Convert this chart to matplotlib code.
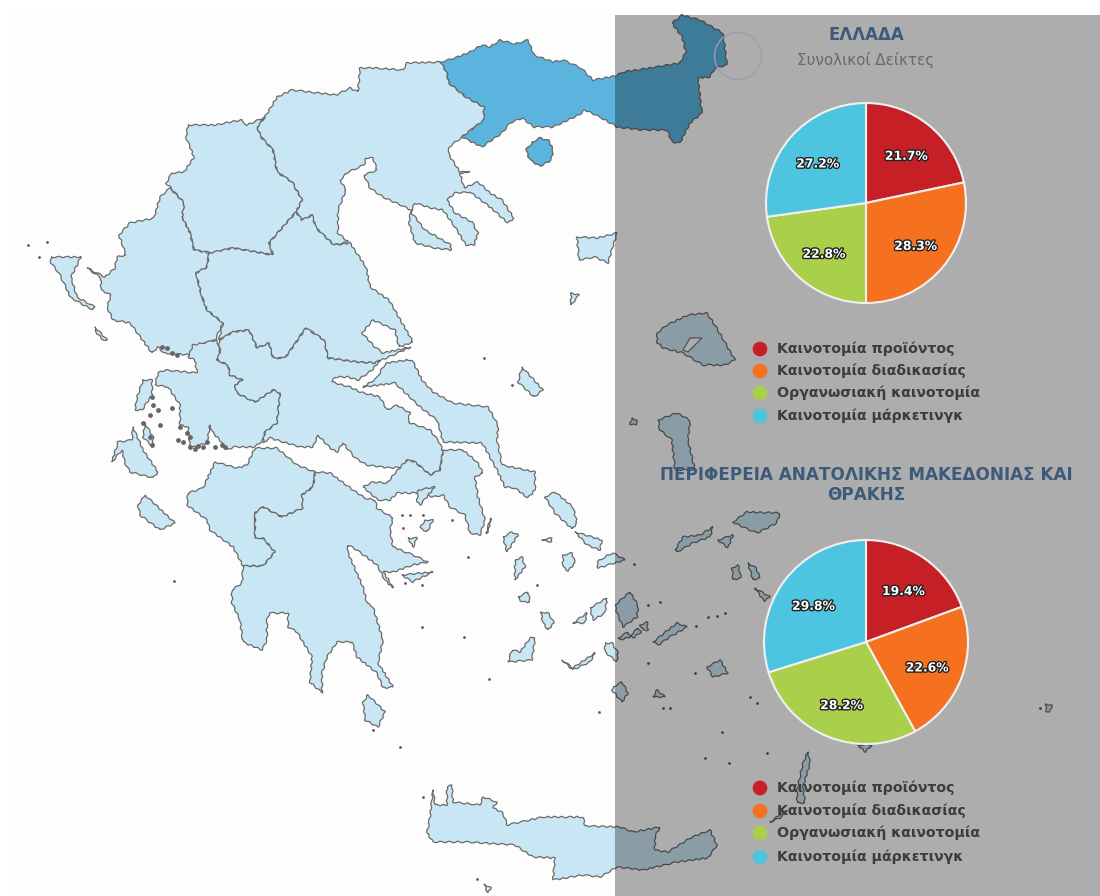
import matplotlib
matplotlib.use("Agg")
import matplotlib.pyplot as plt
import matplotlib.patheffects as pe
from matplotlib.patches import Polygon, Rectangle, Circle

# pie values
categories = ["Καινοτομία προϊόντος", "Καινοτομία διαδικασίας", "Οργανωσιακή καινοτομία", "Καινοτομία μάρκετινγκ"]
values_greece = [21.7, 28.3, 22.8, 27.2]
values_region = [19.4, 22.6, 28.2, 29.8]
colors = ["#c62026", "#f57120", "#a9cf4b", "#4dc4e0"]

title_greece = "ΕΛΛΑΔΑ"
subtitle_greece = "Συνολικοί Δείκτες"
title_region = "ΠΕΡΙΦΕΡΕΙΑ ΑΝΑΤΟΛΙΚΗΣ ΜΑΚΕΔΟΝΙΑΣ ΚΑΙ\nΘΡΑΚΗΣ"

# map outlines, in image pixels
thrace = [(441,62),(455,58),(470,52),(482,45),(490,47),(500,40),(515,44),(528,40),(534,55),(553,62),(563,60),(581,68),(593,80),(615,76),
          (623,72),(650,68),(680,63),(686,52),(682,37),(672,23),(682,15),(700,20),(723,33),(727,65),(715,68),(710,77),(698,78),(702,113),
          (690,123),(680,143),(672,142),(667,130),(643,130),(617,127),(600,117),(585,110),(579,115),(553,127),(534,127),(522,118),(510,123),
          (502,133),(482,147),(462,137),(484,120),(484,107),(466,97),(449,83),(447,73)]
thasos = [(533,142),(540,138),(549,141),(553,150),(551,160),(540,166),(530,160),(526,150)]
central_macedonia = [(403,70),(407,63),(441,62),(447,73),(449,83),(466,97),(484,107),(484,120),(462,137),(449,147),(449,155),(460,172),(470,172),
                     (460,173),(464,188),(478,182),(490,193),(502,200),(514,218),(508,223),(490,207),(470,192),(455,193),(447,200),(455,213),(472,222),
                     (478,233),(474,245),(466,245),(455,227),(443,210),(431,208),(415,203),(411,212),(425,230),(451,245),(451,250),(435,248),(415,243),
                     (409,223),(411,210),(383,197),(370,188),(364,175),(377,170),(373,158),(366,158),(364,165),(348,172),(340,180),(346,190),(338,210),
                     (338,233),(348,242),(334,245),(316,228),(312,215),(302,220),(296,212),(302,200),(292,182),(277,172),(273,150),(261,137),(257,127),
                     (265,117),(277,97),(292,90),(336,95),(350,88),(358,92),(360,68),(375,68)]
west_macedonia = [(188,125),(215,125),(241,120),(247,125),(265,117),(257,127),(261,137),(273,150),(277,172),(292,182),(302,200),(296,212),(269,243),
                  (273,255),(233,248),(213,253),(194,250),(190,233),(182,217),(184,203),(170,187),(166,183),(172,173),(184,172),(194,157),(186,137)]
epirus = [(170,188),(160,197),(154,218),(130,223),(119,235),(126,255),(117,257),(115,268),(105,277),(87,268),(101,278),(101,290),(111,295),(107,307),
          (113,320),(130,323),(152,353),(158,347),(164,353),(190,355),(194,347),(215,340),(223,323),(207,310),(202,297),(196,273),(207,267),(209,253),
          (194,250),(190,233),(182,217),(184,203)]
thessaly = [(209,253),(233,248),(273,255),(269,243),(296,212),(302,220),(312,215),(316,228),(334,245),(350,243),(366,267),(370,287),(389,300),(413,342),
            (399,347),(395,330),(373,320),(362,333),(375,347),(383,353),(411,347),(375,363),(356,362),(328,358),(324,340),(306,328),(285,358),(273,358),
            (269,343),(257,348),(249,330),(233,332),(219,340),(223,323),(207,310),(202,297),(196,273),(207,267)]
aetolia = [(217,340),(220,353),(217,360),(228,365),(230,375),(243,380),(235,385),(237,393),(255,402),(273,390),(280,393),(277,423),(265,432),(263,440),
           (255,447),(233,447),(227,450),(220,440),(213,433),(210,425),(207,443),(190,448),(188,427),(180,425),(180,405),(168,387),(155,385),(158,373),
           (165,370),(197,373),(195,360),(188,357),(193,345)]
sterea = [(219,340),(233,332),(249,330),(257,348),(269,343),(273,358),(285,358),(306,328),(324,340),(328,358),(356,362),(375,363),(380,360),(372,370),
          (358,380),(348,377),(335,377),(332,382),(350,387),(360,392),(380,397),(387,410),(397,405),(410,413),(408,422),(430,430),(440,443),(443,452),
          (440,470),(430,475),(415,462),(407,460),(403,467),(390,468),(367,465),(355,458),(343,443),(337,452),(330,448),(318,435),(313,447),(300,447),
          (270,438),(263,443),(265,432),(277,423),(280,393),(273,390),(255,402),(237,393),(235,385),(243,380),(230,375),(228,365),(217,360),(220,353)]
evia = [(407,360),(412,360),(422,380),(433,392),(453,403),(488,407),(498,425),(497,440),(502,465),(535,472),(535,490),(528,498),(515,488),(505,487),
        (497,470),(490,457),(482,443),(443,442),(440,430),(437,420),(420,407),(395,383),(363,387),(377,378),(383,367),(387,363)]
attica = [(443,450),(463,450),(477,462),(483,473),(475,477),(478,497),(485,520),(480,535),(470,533),(465,515),(450,507),(443,495),(433,497),(420,493),
          (397,493),(390,500),(378,500),(363,487),(373,482),(387,483),(395,473),(407,460),(415,462),(430,475),(440,470)]
achaia = [(215,462),(237,468),(247,465),(255,448),(277,448),(297,465),(315,472),(313,487),(302,495),(303,508),(282,517),(263,507),(255,513),(255,538),
          (263,538),(275,552),(263,566),(243,566),(233,547),(210,530),(207,520),(187,505),(188,493),(203,488)]
peloponnese = [(315,472),(330,473),(353,490),(365,498),(375,500),(377,508),(393,518),(390,530),(393,547),(413,555),(428,562),(413,565),(393,572),(383,572),
               (390,582),(393,588),(385,580),(377,565),(357,550),(348,545),(348,553),(363,587),(367,603),(373,607),(383,640),(378,663),(387,677),(393,687),
               (383,688),(377,673),(357,657),(352,642),(337,642),(327,657),(322,673),(322,693),(310,682),(312,657),(297,632),(288,627),(288,613),(270,613),
               (267,618),(267,640),(262,650),(243,642),(240,620),(232,603),(232,590),(242,583),(243,566),(263,566),(275,552),(263,538),(255,538),(255,513),
               (263,507),(282,517),(303,508),(302,495),(313,487)]
crete = [(433,790),(435,805),(447,805),(447,787),(452,785),(453,802),(480,805),(483,797),(497,802),(493,808),(503,813),(507,825),(543,817),(583,817),
         (585,826),(620,827),(633,832),(660,827),(655,837),(655,850),(668,852),(690,838),(710,830),(717,845),(708,858),(677,862),(643,870),(617,867),
         (600,877),(583,875),(553,880),(555,858),(533,857),(515,845),(467,842),(433,842),(427,833),(430,817)]
mainland = [thasos, central_macedonia, west_macedonia, epirus, thessaly, aetolia, sterea, evia, attica, achaia, peloponnese, crete]

islands = [
    [(51,257),(81,257),(71,277),(77,297),(95,307),(93,310),(71,298),(59,273),(51,263)],        # corfu
    [(95,327),(107,340),(104,341),(95,331)],
    [(143,380),(152,380),(152,395),(142,410),(135,410),(137,397)],                             # lefkada
    [(133,427),(143,450),(158,472),(153,478),(130,472),(125,463),(122,450),(112,462),(118,442),(132,440)],
    [(145,423),(153,437),(153,447),(143,437)],
    [(145,495),(175,523),(160,530),(140,515),(138,505)],                                       # zakynthos
    [(368,695),(385,712),(378,727),(365,720),(363,702)],                                       # kythera
    [(522,367),(543,390),(534,397),(518,382)],                                                 # skyros
    [(579,295),(571,305),(571,293)],
    [(577,237),(597,238),(617,233),(608,263),(595,257),(579,260)],                             # limnos
    [(657,333),(667,325),(688,315),(707,313),(715,325),(735,360),(725,365),(703,365),(683,353),(663,348),(657,342)],  # lesvos
    [(658,420),(677,413),(690,420),(688,440),(695,470),(675,470),(672,440),(660,430)],         # chios
    [(632,418),(637,420),(636,425),(630,424)],
    [(733,522),(747,512),(780,513),(777,523),(757,533),(743,527)],                             # samos
    [(675,550),(683,537),(700,535),(713,527),(710,537),(693,543),(677,552)],                   # ikaria
    [(718,540),(733,535),(728,548)],
    [(615,605),(630,592),(638,605),(637,617),(623,627),(617,613)],                             # naxos
    [(590,608),(607,598),(605,613),(593,620)],
    [(573,623),(587,613),(585,623)],
    [(545,497),(555,492),(573,507),(577,523),(572,529),(555,513)],                             # andros
    [(575,532),(602,540),(600,550),(587,545)],
    [(608,555),(613,553),(625,560),(608,565),(598,568),(597,562)],
    [(503,537),(512,532),(518,535),(507,552)],
    [(542,540),(552,538),(552,542)],
    [(515,560),(522,557),(525,567),(515,580)],
    [(563,555),(572,553),(575,563),(568,571),(563,567)],
    [(518,597),(528,592),(530,602),(522,602)],
    [(541,612),(548,613),(554,623),(548,630),(543,623)],
    [(508,662),(512,650),(520,652),(530,638),(535,638),(532,660)],                             # milos
    [(562,660),(573,668),(580,663),(595,653),(590,662),(573,670)],
    [(605,643),(612,643),(618,653),(617,662),(605,652)],
    [(613,687),(622,682),(628,693),(622,702),(612,690)],                                       # santorini
    [(653,642),(677,623),(687,627),(670,637),(658,645)],                                       # amorgos
    [(618,638),(628,632),(630,637),(620,640)],
    [(630,636),(638,628),(641,632),(633,638)],
    [(640,625),(647,622),(648,630),(643,630)],
    [(707,667),(720,660),(728,673),(713,677)],                                                 # astypalaia
    [(653,697),(657,690),(665,697)],
    [(732,568),(738,565),(741,578),(733,580)],
    [(748,563),(756,568),(760,578),(753,580)],
    [(755,588),(770,597),(764,601)],
    [(808,752),(810,763),(803,787),(805,803),(797,803),(797,790),(803,763)],                   # karpathos
    [(770,822),(787,810),(782,817)],
    [(858,745),(872,745),(865,752)],
    [(425,520),(433,520),(427,532),(420,528)],
    [(408,538),(417,538),(413,547)],
    [(418,490),(435,487),(420,505),(417,502)],
    [(402,575),(433,572),(412,582)],
    [(486,533),(491,518),(488,532)],
    [(1046,704),(1052,705),(1050,712),(1046,711)],
    [(484,884),(491,888),(488,893)],
]
lesvos_gulf = [(690,338),(702,338),(688,352),(683,350)]
tiny_x = [28, 47, 39, 174, 468, 422, 464, 489, 599, 400, 423, 373, 477, 402, 410, 423, 403, 452, 422, 405, 537,
          634, 648, 660, 708, 717, 725, 696, 648, 695, 670, 663, 750, 757, 722, 705, 729, 767, 1040, 484, 512]
tiny_y = [245, 242, 257, 581, 557, 627, 637, 679, 712, 747, 797, 730, 879, 515, 515, 515, 528, 520, 585, 583, 585,
          564, 605, 602, 617, 616, 613, 626, 663, 673, 708, 708, 697, 703, 732, 758, 763, 753, 708, 358, 385]
# dark clusters of islets along the western coast
clutter_x = [190, 203, 207, 222, 225, 215, 187, 190, 180, 160, 150, 178, 183, 152, 153, 158, 172, 143, 150, 152, 167, 172, 162, 177, 195, 198]
clutter_y = [447, 447, 442, 445, 447, 447, 433, 437, 427, 425, 415, 440, 442, 397, 405, 410, 408, 423, 437, 445, 348, 353, 347, 355, 449, 446]

fig = plt.figure(figsize=(11, 8.96), dpi=100)
ax = fig.add_axes([0, 0, 1, 1])
ax.set_xlim(0, 1100)
ax.set_ylim(896, 0)
ax.axis("off")

ax.add_patch(Rectangle((10, 12), 1090, 884, fc="#fdfdfd", ec="none", zorder=0))


def add_shape(shape, fill, z):
    p = Polygon(shape, fc=fill, ec="#6a6a6a", lw=0.9, zorder=z)
    p.set_sketch_params(0.7, 9, 2)  # rough pixel coast like the original map
    ax.add_patch(p)


for shape in mainland + islands:
    add_shape(shape, "#c9e6f4", 1)
add_shape(thrace, "#5bb4de", 1.2)
add_shape(thasos, "#5bb4de", 1.2)
ax.add_patch(Polygon(lesvos_gulf, fc="#fdfdfd", ec="#6a6a6a", lw=0.8, zorder=1.1))
ax.scatter(tiny_x, tiny_y, s=4, color="#5a5a5a", linewidths=0, zorder=1.3)
ax.scatter(clutter_x, clutter_y, s=12, color="#666666", linewidths=0, zorder=1.3)

# dark layer behind the right panel
ax.add_patch(Rectangle((615, 15), 485, 881, fc="black", ec="none", alpha=0.315, zorder=2))
ax.add_patch(Circle((738, 56), 23.5, fc="none", ec="#9c9cb4", lw=1, zorder=3))


def draw_pie(vals, cx, cy, r):
    pie_ax = fig.add_axes([(cx - r - 2) / 1100, 1 - (cy + r + 2) / 896, (2 * r + 4) / 1100, (2 * r + 4) / 896])
    wedges, texts, autotexts = pie_ax.pie(vals, colors=colors, startangle=90, counterclock=False,
                                          autopct="%.1f%%", pctdistance=0.64,
                                          wedgeprops={"edgecolor": "#f0f0f0", "linewidth": 1.5})
    lim = 1 + 2 / r
    pie_ax.set_xlim(-lim, lim)
    pie_ax.set_ylim(-lim, lim)
    for t in autotexts:
        t.set_y(t.get_position()[1] - 0.03)
        t.set_color("white")
        t.set_fontsize(8.9)
        t.set_fontweight("bold")
        t.set_path_effects([pe.withStroke(linewidth=2, foreground="#222222")])


def draw_legend(ys):
    ax.scatter([760] * 4, ys, s=112, color=colors, linewidths=0, zorder=4)
    for y, name in zip(ys, categories):
        ax.text(777, y, name, fontsize=10.15, color="#3c3c3c", fontweight="bold", va="center", ha="left", zorder=4)


draw_pie(values_greece, 866, 203, 100)
draw_pie(values_region, 866, 642, 102)
draw_legend([349, 371, 393, 416])
draw_legend([788, 811, 833, 857])

ax.text(866, 35, title_greece, fontsize=12, fontweight="bold", color="#3d5a7a", ha="center", va="center", zorder=4)
ax.text(866, 60, subtitle_greece, fontsize=10.9, color="#696969", ha="center", va="center", zorder=4)
ax.text(866, 485, title_region, fontsize=12.2, fontweight="bold", color="#3d5a7a", ha="center", va="center", linespacing=1.12, zorder=4)

plt.savefig("out.png", dpi=100)
